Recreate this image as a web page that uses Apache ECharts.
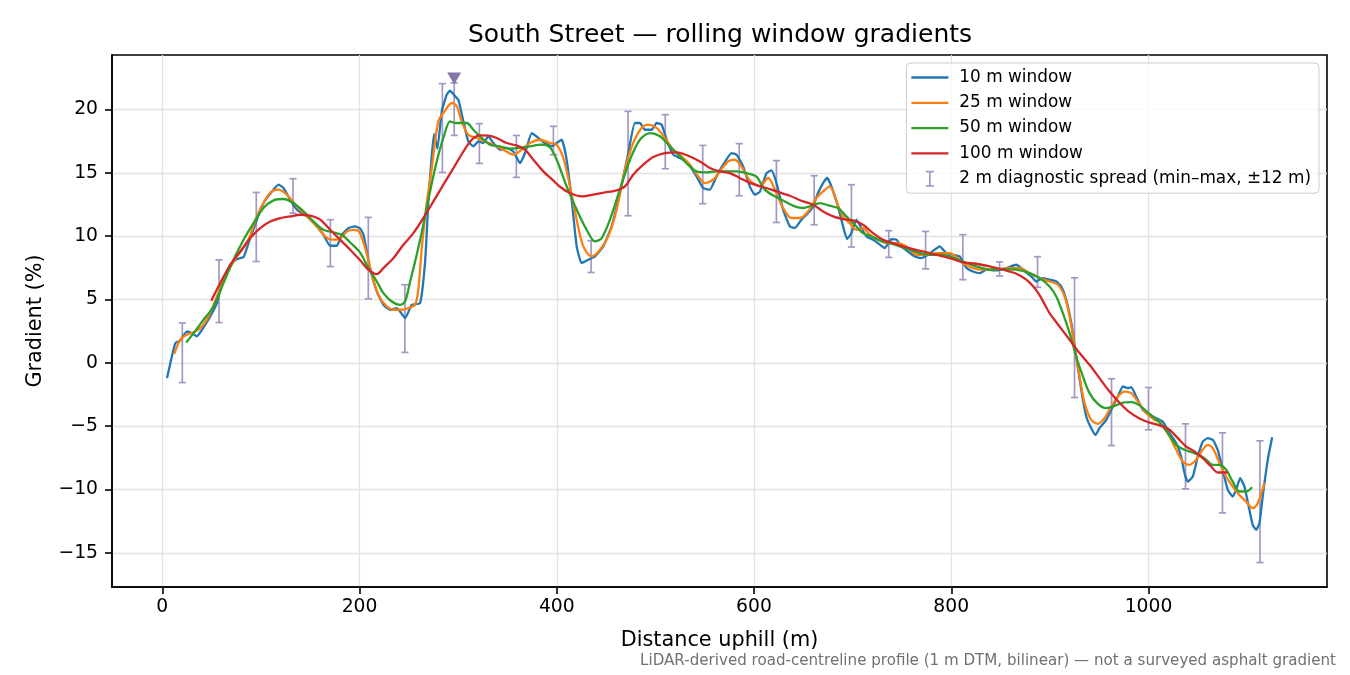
<!DOCTYPE html>
<html>
<head>
<meta charset="utf-8">
<script src="https://cdn.jsdelivr.net/npm/echarts@6/dist/echarts.min.js"></script>
<style>
html,body{margin:0;padding:0;background:#fff;}
#chart{width:1350px;height:675px;}
</style>
</head>
<body>
<div id="chart"></div>
<script>
// ---- data ----
const dist10 = [4.8,13.2,18.2,25,30,35.1,40.2,48.6,55.4,60.5,68.9,75.6,82.4,87.4,95.9,102.6,109.4,117.9,122.9,129.7,136.5,146.6,156.7,163.4,170.2,177,182,188.8,195.5,200.6,204,210.7,217.5,224.2,231,237.8,246.2,253,261.4,266.5,269.8,273.3,275.6,278.9,283.4,288.4,291.8,296.9,300.2,305.3,310.3,315.4,320.5,325.5,330.6,335.7,342.4,349.2,355.9,362.7,367.8,374.6,381.3,388,394.8,399.9,405,410,415.1,420.2,425.2,432,438.7,447.1,455.6,464,472.5,479.2,484.3,489.4,496.2,501.2,506.3,511.4,518.1,524.8,531.6,541.7,548.4,555.2,562,568.7,577.2,582.3,589,595.7,600.8,605.9,612.7,617.7,622.8,629.5,636.3,641.3,648.1,654.8,659.9,664.9,670,674.1,678.5,685.2,690.3,694.3,698.8,703.8,708.9,714,720.7,725.7,732.5,739.3,744.4,749.4,756.1,762.9,769.7,776.4,783.2,788.2,795,801.7,808.5,815.3,822,828.8,835.6,845.7,855.8,866,872.6,881.2,886.2,892.9,899.7,906.5,911.5,916.6,921.7,926.7,931.8,936.9,941.9,946.3,950.3,957.2,963.9,968.9,974,979,982.5,987.5,994.2,1001,1004.4,1014.5,1021.3,1028.1,1033.1,1036.5,1039.8,1044.9,1050,1055,1060.1,1065.2,1070.2,1075.3,1080.4,1085.4,1088.8,1092.9,1097.3,1102.3,1105.7,1109.1,1112.5,1115.8,1120.9,1125.4];
const grad10 = [-1.21,1.56,1.76,2.47,2.34,2.08,2.6,3.66,4.71,6.3,7.74,8.19,8.35,9.45,11.3,12.6,13.35,14.06,13.8,12.87,12.09,11.56,10.77,10.11,9.24,9.24,10.11,10.64,10.77,10.6,10.11,7.48,5.63,4.58,4.19,4.32,3.53,4.58,4.71,8.0,12.74,16.43,18.06,16.9,19.85,21.17,21.48,21.04,20.77,19.06,17.48,17.09,17.48,17.35,17.88,17.35,16.82,16.96,16.69,15.77,16.56,18.14,17.75,17.35,17.09,17.35,17.61,16.03,12.87,9.19,7.87,8.14,8.4,9.19,10.77,13.4,16.56,18.93,18.93,18.4,18.4,18.93,18.8,17.61,16.43,16.17,15.9,14.72,13.8,13.67,14.72,15.64,16.56,16.43,15.5,13.93,13.27,13.5,14.98,15.19,14.19,12.09,10.77,10.64,11.3,11.82,12.35,13.4,14.19,14.59,13.93,12.35,10.77,9.77,10.24,11.3,10.64,9.98,9.72,9.45,9.06,9.77,9.72,9.19,8.79,8.4,8.27,8.53,8.93,9.19,8.66,8.53,8.4,7.5,7.21,7.08,7.35,7.29,7.48,7.74,7.35,6.82,6.42,6.69,6.56,6.42,6.03,4.98,3.14,0.5,-2.13,-4.24,-5.16,-5.69,-5.16,-4.5,-3.45,-2.66,-1.87,-2.0,-1.92,-2.66,-3.71,-4.11,-4.24,-4.64,-5.55,-6.34,-7.4,-8.71,-9.38,-8.98,-7.4,-6.22,-5.95,-6.08,-6.87,-8.45,-10.03,-10.56,-10.03,-9.11,-9.77,-11.61,-12.8,-13.19,-12.66,-10.56,-7.66,-5.87];

const dist25 = [12.2,18.2,25,33.4,40.2,46.9,55.4,63.8,75.7,85.8,95.9,104.4,111.1,117.9,126.3,136.5,146.6,156.7,165.1,171.9,178.6,187.1,193.8,198.9,205.7,212.5,219.2,226,234.3,242.9,249.6,256.3,259.7,263.1,267.5,273.3,279.9,286.7,293.5,298.6,303.6,310.3,318.8,327.3,335.7,345.8,355.9,364.4,372.8,383,393.1,399.9,406.6,413.4,420.2,426.9,435.4,443.8,452.2,460.7,469.1,477.5,486,492.7,501.2,509.6,518.1,526.5,535,543.4,550.2,558.6,565.3,573.8,580.5,587.3,595.7,605.9,614.3,621.1,629.5,638,646.4,654.8,663.3,670,676.8,683.6,690.3,697.1,703.8,710.5,717.3,725.7,734.2,744.4,754.5,764.6,774.8,784.9,798.4,811.9,822,832.1,845.7,859.2,869.3,879.4,889.6,899.7,908.1,914.9,920,925,930.1,935.2,941.9,948.7,955.4,962.2,968.9,975.7,982.5,989.2,997.7,1006.1,1011.1,1021.3,1028.1,1034.8,1041.5,1048.3,1055,1060.1,1065.2,1072,1078.7,1085.4,1092.2,1099,1105.7,1110.8,1117.5];
const grad25 = [0.71,1.82,2.21,2.47,2.87,3.66,5.24,6.82,8.4,9.45,11.56,12.87,13.53,13.67,13.27,12.35,11.56,10.77,9.98,9.72,9.72,10.37,10.5,10.43,9.06,6.95,5.37,4.58,4.19,4.19,4.32,4.58,5.9,9.06,12.22,15.38,19.06,19.9,20.51,20.25,19.06,18.01,17.75,17.48,17.22,16.82,16.43,16.82,17.35,17.61,17.35,17.22,16.17,13.93,11.3,9.19,8.4,8.93,9.98,12.09,15.24,17.35,18.54,18.8,18.54,17.75,16.82,16.3,15.64,14.72,14.19,14.45,15.11,15.9,16.03,15.5,14.4,13.93,14.59,13.67,12.22,11.43,11.43,11.95,13.01,13.53,13.93,12.74,11.56,11.03,10.5,10.64,10.11,9.72,9.45,9.45,9.19,8.53,8.53,8.66,8.66,7.87,7.48,7.35,7.4,7.48,7.48,7.08,6.69,6.42,6.16,5.24,3.66,1.29,-1.08,-3.18,-4.5,-4.82,-4.37,-3.45,-2.66,-2.27,-2.39,-3.06,-3.97,-4.5,-4.64,-5.82,-6.87,-7.8,-8.06,-7.66,-6.87,-6.48,-6.74,-7.92,-8.98,-9.77,-10.43,-10.96,-11.48,-11.08,-9.5];

const dist50 = [24.3,31.7,41.8,52,62.1,72.2,82.4,92.5,102.6,112.8,122.9,133,143.2,153.3,163.4,173.6,182,190.5,200.6,209,217.5,224.2,232.7,241.1,246.2,251.3,258,264.7,271.5,278.3,285,291.8,296.9,301.9,308.7,315.4,323.9,332.3,342.4,352.5,362.7,372.8,384.6,393.1,399.9,410,420.2,430.3,438.7,445.5,453.9,464,474.2,484.3,494.4,504.6,514.7,524.8,535,541.7,551.8,562,572.1,582.3,592.4,602.5,610.9,621.1,631.2,641.3,649.8,658.2,666.7,676.8,685.2,693.7,702.1,710.5,719,727.5,737.6,747.7,757.9,768,778.1,788.2,798.4,811.9,825.4,838.9,852.4,866,879.4,889.6,899.7,906.5,913.2,920,926.7,933.5,940.2,948.7,957.2,965.6,974,982.5,990.9,1001,1011.1,1019.6,1028.1,1036.5,1046.6,1056.7,1065.2,1072,1078.7,1085.4,1092.2,1099,1105];
const grad50 = [1.6,2.34,3.4,4.45,6.3,8.14,9.72,11.03,12.22,12.82,12.93,12.61,11.95,11.16,10.5,10.29,10.11,9.5,8.7,7.48,6.42,5.5,4.84,4.58,4.84,6.42,8.53,10.9,13.53,15.9,17.75,19.06,18.93,18.93,18.93,18.4,17.75,17.22,17.09,16.9,16.96,17.09,17.22,17.0,16.03,13.93,12.09,10.5,9.58,9.85,11.3,13.67,16.03,17.61,18.14,17.88,17.09,16.3,15.5,15.11,15.03,15.11,15.11,15.11,14.98,14.7,13.67,13.14,12.74,12.35,12.22,12.4,12.61,12.4,12.22,11.56,10.9,10.24,9.98,9.66,9.45,9.19,8.93,8.66,8.53,8.53,8.4,8.0,7.61,7.35,7.4,7.35,7.08,6.69,6.03,5.24,3.92,2.34,0.5,-1.08,-2.39,-3.24,-3.58,-3.4,-3.14,-3.1,-3.36,-4.04,-4.7,-5.55,-6.48,-6.87,-7.13,-7.53,-8.06,-8.06,-8.45,-9.38,-10.16,-10.16,-9.82];

const dist100 = [49.6,58.8,68.9,79,89.2,99.3,109.4,119.6,129.7,139.8,149.9,160.1,170.2,180.3,190.5,200.6,209,217.5,224.2,234.4,244.5,254.6,264.7,274.9,285,295.3,305.4,313.8,322.2,330.6,339.1,349.2,359.3,367.8,376.2,386.3,396.4,403.2,413.4,425.2,437,448.8,460.7,469.1,477.5,487.7,497.8,509.6,521.5,533.2,545.1,555.2,565.3,575.5,585.6,595.7,609.2,622.8,636.3,649.8,659.9,670,680.2,690.3,700.4,710.5,720.7,730.8,740.9,751.1,761.2,771.3,781.5,791.6,801.7,811.9,825.4,838.9,852.4,866,876.1,884.5,891.3,899.7,909.8,920,930.1,940.2,950.3,960.5,970.6,980.7,990.9,1001,1011.1,1021.3,1029.7,1038.2,1046.6,1055,1063.5,1070.2,1080.4];
const grad100 = [4.9,6.3,7.74,8.79,9.85,10.64,11.16,11.43,11.56,11.69,11.61,11.3,10.5,9.72,8.93,8.1,7.35,7.0,7.48,8.27,9.32,10.24,11.43,12.74,14.06,15.38,16.69,17.61,17.95,17.93,17.75,17.35,17.16,16.82,16.03,15.11,14.4,13.9,13.4,13.14,13.27,13.45,13.61,13.93,14.85,15.64,16.25,16.56,16.61,16.35,15.9,15.38,15.11,14.98,14.59,14.2,13.88,13.53,13.19,12.74,12.48,11.95,11.56,11.35,11.24,10.9,10.24,9.72,9.45,9.19,8.98,8.79,8.58,8.4,8.19,7.92,7.82,7.61,7.35,7.03,6.56,5.9,5.11,3.92,2.87,1.82,0.77,-0.16,-1.21,-2.27,-3.15,-3.9,-4.4,-4.72,-4.94,-5.29,-5.95,-6.61,-7.0,-7.53,-8.19,-8.66,-8.66];

// 2 m diagnostic spread (min–max within ±12 m)
const spreadDist = [20.3,57.5,95.3,132.5,170.4,208.9,246,284,296,321.5,359,396.6,434.8,472.3,510,548,585,622.7,661,698.8,736.6,774,811.7,849,887.5,925,962.5,1000,1037.5,1075,1113];
const spreadLow  = [-1.56,3.18,8.0,11.82,7.6,5.05,0.82,15.03,17.95,15.74,14.64,16.43,7.13,11.61,15.32,12.56,13.19,11.08,10.9,9.14,8.32,7.42,6.56,6.85,5.96,-2.74,-6.53,-5.29,-9.95,-11.85,-15.77];
const spreadHigh = [3.14,8.13,13.45,14.53,11.3,11.48,6.16,22.04,22.1,18.88,17.95,18.67,9.64,19.85,19.59,17.16,17.3,15.96,14.77,14.06,10.43,10.37,10.11,7.97,8.38,6.71,-1.26,-1.95,-4.82,-5.53,-6.16];

// steepest point marker
const peakDist = [296];
const peakMark = [22.45];

const xTicks = [0,200,400,600,800,1000];
const yTicks = [-15,-10,-5,0,5,10,15,20];

const seriesNames = ['10 m window','25 m window','50 m window','100 m window'];
const spreadName = '2 m diagnostic spread (min–max, ±12 m)';
const colors = ['#1f77b4','#ff7f0e','#2ca02c','#d62728'];
const spreadColor = '#a597c3';
const peakColor = '#8676a8';

// ---- build ----
const zip = (a, b) => a.map((v, i) => [v, b[i]]);
const lineData = [zip(dist10, grad10), zip(dist25, grad25), zip(dist50, grad50), zip(dist100, grad100)];
const spreadData = spreadDist.map((d, i) => [d, spreadLow[i], spreadHigh[i]]);
const fmt = v => (v < 0 ? '\u2212' + Math.abs(v) : String(v));
const FONT = 'DejaVu Sans';

const chart = echarts.init(document.getElementById('chart'), null, {renderer: 'canvas'});

const series = [];
series.push({
  name: spreadName,
  type: 'custom',
  z: 2,
  itemStyle: {color: spreadColor},
  encode: {x: 0, y: [1, 2]},
  data: spreadData,
  renderItem: function (params, api) {
    const x = api.value(0), lo = api.value(1), hi = api.value(2);
    const pt = api.coord([x, hi]);
    const pb = api.coord([x, lo]);
    const cap = 3.6;
    const st = {stroke: spreadColor, lineWidth: 1.7, fill: null};
    return {
      type: 'group',
      children: [
        {type: 'line', shape: {x1: pt[0], y1: pt[1], x2: pb[0], y2: pb[1]}, style: st},
        {type: 'line', shape: {x1: pt[0] - cap, y1: pt[1], x2: pt[0] + cap, y2: pt[1]}, style: st},
        {type: 'line', shape: {x1: pb[0] - cap, y1: pb[1], x2: pb[0] + cap, y2: pb[1]}, style: st}
      ]
    };
  }
});
seriesNames.forEach((n, i) => {
  series.push({
    name: n,
    type: 'line',
    data: lineData[i],
    showSymbol: false,
    symbol: 'none',
    smooth: i === 0 ? 0.15 : 0.3,
    z: 3,
    itemStyle: {color: colors[i], borderWidth: 0},
    lineStyle: {color: colors[i], width: 2.3},
    emphasis: {disabled: true}
  });
});
series.push({
  name: 'peak',
  type: 'scatter',
  data: zip(peakDist, peakMark),
  symbol: 'triangle',
  symbolRotate: 180,
  symbolSize: [14, 12],
  itemStyle: {color: peakColor, opacity: 1},
  emphasis: {disabled: true},
  z: 5
});

const lineIcon = 'path://M0,0h37v2.3h-37z';
const spreadIcon = 'path://M0,0h8v1.7h-8z M3.15,1.7h1.7v12.6h-1.7z M0,14.3h8v1.7h-8z';

chart.setOption({
  animation: false,
  backgroundColor: '#ffffff',
  title: {
    text: 'South Street — rolling window gradients',
    left: 715,
    textAlign: 'center',
    top: 18,
    textStyle: {fontFamily: FONT, fontSize: 25, fontWeight: 'normal', color: '#000'}
  },
  grid: {
    left: 112, right: 23, top: 55, bottom: 88,
    show: true, borderColor: '#000', borderWidth: 1.6, backgroundColor: 'transparent'
  },
  legend: {
    orient: 'vertical',
    right: 31, top: 63,
    itemWidth: 37, itemHeight: 16, itemGap: 8.3,
    padding: [6, 8, 6, 5],
    backgroundColor: 'rgba(255,255,255,0.8)',
    borderColor: '#cccccc', borderWidth: 1, borderRadius: 4,
    itemStyle: {borderWidth: 0},
    textStyle: {fontFamily: FONT, fontSize: 16.9, color: '#000', padding: [0, 0, 0, 6]},
    selectedMode: false,
    data: seriesNames.map((n, i) => ({name: n, icon: lineIcon, itemStyle: {color: colors[i]}}))
      .concat([{name: spreadName, icon: spreadIcon, itemStyle: {color: spreadColor}}])
  },
  xAxis: {
    type: 'value',
    min: -51, max: 1181,
    name: 'Distance uphill (m)',
    nameLocation: 'middle',
    nameGap: 43,
    nameTextStyle: {fontFamily: FONT, fontSize: 20.8, color: '#000'},
    axisLine: {show: true, onZero: false, lineStyle: {color: '#000', width: 1.6}},
    axisTick: {show: true, length: 7, lineStyle: {color: '#000', width: 1.6}, customValues: xTicks},
    axisLabel: {fontFamily: FONT, fontSize: 18.75, color: '#000', margin: 11, customValues: xTicks, formatter: fmt},
    splitLine: {show: true, lineStyle: {color: '#e2e2e2', width: 1.3}}
  },
  yAxis: {
    type: 'value',
    min: -17.7, max: 24.3,
    name: 'Gradient (%)',
    nameLocation: 'middle',
    nameGap: 66,
    nameRotate: 90,
    nameTextStyle: {fontFamily: FONT, fontSize: 20.8, color: '#000'},
    axisLine: {show: true, onZero: false, lineStyle: {color: '#000', width: 1.6}},
    axisTick: {show: true, length: 7, lineStyle: {color: '#000', width: 1.6}, customValues: yTicks},
    axisLabel: {fontFamily: FONT, fontSize: 18.75, color: '#000', margin: 14, customValues: yTicks, formatter: fmt},
    splitLine: {show: true, lineStyle: {color: '#e2e2e2', width: 1.3}}
  },
  graphic: [{
    type: 'text',
    right: 14,
    top: 654,
    style: {
      text: 'LiDAR-derived road-centreline profile (1 m DTM, bilinear) — not a surveyed asphalt gradient',
      fontFamily: FONT, fontSize: 15.1, fill: '#707070'
    }
  }],
  series: series
});
</script>
</body>
</html>
